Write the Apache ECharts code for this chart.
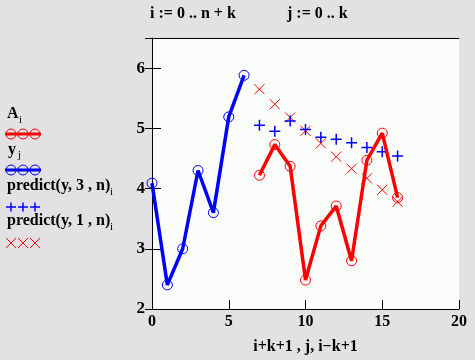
<!DOCTYPE html>
<html><head><meta charset="utf-8">
<script src="https://cdn.jsdelivr.net/npm/echarts@6/dist/echarts.min.js"></script>
<style>html,body{margin:0;padding:0;background:#e3e1e3}#c{width:475px;height:360px}</style>
</head><body><div id="c"></div>
<script>
// Data
var jIdx = [0, 1, 2, 3, 4, 5, 6];
var yVals = [4.09, 2.40, 3.00, 4.30, 3.60, 5.19, 5.88];
var iIdx = [7, 8, 9, 10, 11, 12, 13, 14, 15, 16];
var aVals = [4.22, 4.73, 4.37, 2.48, 3.38, 3.71, 2.80, 4.47, 4.92, 3.85];
var pred3 = [5.05, 4.95, 5.12, 4.98, 4.85, 4.82, 4.76, 4.68, 4.61, 4.54];
var pred1 = [5.65, 5.40, 5.18, 4.96, 4.75, 4.53, 4.33, 4.17, 3.98, 3.78];
var xTicks = [0, 5, 10, 15, 20];
var yTicks = [2, 3, 4, 5, 6];

function pairs(xs, ys) { return xs.map(function (x, k) { return [x, ys[k]]; }); }

var serif = 'Liberation Serif';
var chart = echarts.init(document.getElementById('c'), null, {renderer: 'canvas'});
var crossPath = 'path://M0,0L10,10M10,0L0,10';
var plusPath = 'path://M5,0L5,10M0,5L10,5';

var graphics = [
  {type: 'text', left: 150, top: 6, style: {text: 'i := 0 .. n + k', font: 'bold 16px ' + serif, fill: '#000'}},
  {type: 'text', left: 287, top: 6, style: {text: 'j := 0 .. k', font: 'bold 16px ' + serif, fill: '#000'}},
  // legend entries
  {type: 'text', left: 7, top: 106, style: {text: 'A', font: 'bold 16px ' + serif, fill: '#000'}},
  {type: 'text', left: 19, top: 115, style: {text: 'i', font: '11px ' + serif, fill: '#000'}},
  {type: 'line', shape: {x1: 5, y1: 134, x2: 41, y2: 134}, style: {stroke: '#ff0000', lineWidth: 3}},
  {type: 'text', left: 8, top: 142, style: {text: 'y', font: 'bold 16px ' + serif, fill: '#000'}},
  {type: 'text', left: 18, top: 150, style: {text: 'j', font: '11px ' + serif, fill: '#000'}},
  {type: 'line', shape: {x1: 5, y1: 170, x2: 41, y2: 170}, style: {stroke: '#0000ff', lineWidth: 3}},
  {type: 'text', left: 7, top: 178, style: {text: 'predict(y, 3 , n)', font: 'bold 16px ' + serif, fill: '#000'}},
  {type: 'text', left: 110, top: 187, style: {text: 'i', font: '11px ' + serif, fill: '#000'}},
  {type: 'text', left: 7, top: 213, style: {text: 'predict(y, 1 , n)', font: 'bold 16px ' + serif, fill: '#000'}},
  {type: 'text', left: 110, top: 222, style: {text: 'i', font: '11px ' + serif, fill: '#000'}}
];
[11, 23, 35].forEach(function (cx) {
  graphics.push({type: 'circle', shape: {cx: cx, cy: 134, r: 5}, style: {fill: 'none', stroke: '#ff0000', lineWidth: 1}});
  graphics.push({type: 'circle', shape: {cx: cx, cy: 170, r: 5}, style: {fill: 'none', stroke: '#0000ff', lineWidth: 1}});
  graphics.push({type: 'line', shape: {x1: cx - 5, y1: 207, x2: cx + 5, y2: 207}, style: {stroke: '#0000ff', lineWidth: 1.5}});
  graphics.push({type: 'line', shape: {x1: cx, y1: 202.5, x2: cx, y2: 211.5}, style: {stroke: '#0000ff', lineWidth: 1.5}});
  graphics.push({type: 'line', shape: {x1: cx - 5, y1: 238, x2: cx + 5, y2: 248}, style: {stroke: '#ff0000', lineWidth: 1}});
  graphics.push({type: 'line', shape: {x1: cx - 5, y1: 248, x2: cx + 5, y2: 238}, style: {stroke: '#ff0000', lineWidth: 1}});
});

var option = {
  backgroundColor: '#e3e1e3',
  animation: false,
  grid: {left: 152, top: 38, right: 16, bottom: 51, show: true, backgroundColor: '#fbfdfb', borderWidth: 0},
  xAxis: [{
    type: 'value', min: xTicks[0], max: xTicks[xTicks.length - 1], interval: 5,
    name: 'i+k+1 , j, i\u2212k+1', nameLocation: 'middle', nameGap: 30,
    nameTextStyle: {fontFamily: serif, fontSize: 16, fontWeight: 'bold', color: '#000'},
    axisLine: {show: true, lineStyle: {color: '#000', width: 1}},
    axisTick: {show: true, inside: true, length: 9, lineStyle: {color: '#000'}},
    axisLabel: {fontFamily: serif, fontSize: 16, fontWeight: 'bold', color: '#000', margin: 5},
    splitLine: {show: false}
  }, {
    type: 'value', position: 'top', min: 0, max: 20,
    axisLine: {show: true, lineStyle: {color: '#000', width: 1}},
    axisTick: {show: false}, axisLabel: {show: false}, splitLine: {show: false}
  }],
  yAxis: [{
    type: 'value', min: yTicks[0], max: 6.5, interval: 1,
    axisLine: {show: false},
    axisTick: {show: true, inside: true, length: 9, lineStyle: {color: '#000'}},
    axisLabel: {fontFamily: serif, fontSize: 17, fontWeight: 'bold', color: '#000', margin: 7,
      formatter: function (v) { return Number.isInteger(v) ? String(v) : ''; }},
    splitLine: {show: false}
  }, {
    type: 'value', position: 'right', min: 2, max: 6.5, interval: 1,
    axisLine: {show: true, lineStyle: {color: '#000', width: 1}},
    axisTick: {show: true, inside: true, length: 7, lineStyle: {color: '#000'}},
    axisLabel: {show: false}, splitLine: {show: false}
  }],
  graphic: graphics,
  series: [
    {type: 'line', data: pairs(iIdx, pred1), symbol: crossPath, symbolSize: 10,
      lineStyle: {width: 0, opacity: 0},
      itemStyle: {color: 'none', borderColor: '#ff0000', borderWidth: 1}, z: 3},
    {type: 'line', data: pairs(iIdx, pred3), symbol: plusPath, symbolSize: 11,
      lineStyle: {width: 0, opacity: 0},
      itemStyle: {color: 'none', borderColor: '#0000ff', borderWidth: 1.5}, z: 4},
    {type: 'line', data: pairs(iIdx, aVals), symbol: 'circle', symbolSize: 10, showAllSymbol: true,
      lineStyle: {color: '#ff0000', width: 3.5},
      itemStyle: {color: 'rgba(0,0,0,0)', borderColor: '#ff0000', borderWidth: 1}, z: 5},
    {type: 'line', data: pairs(jIdx, yVals), symbol: 'circle', symbolSize: 10, showAllSymbol: true,
      lineStyle: {color: '#0000ff', width: 3.5},
      itemStyle: {color: 'rgba(0,0,0,0)', borderColor: '#0000ff', borderWidth: 1}, z: 5}
  ]
};
chart.setOption(option);
</script>
</body></html>
